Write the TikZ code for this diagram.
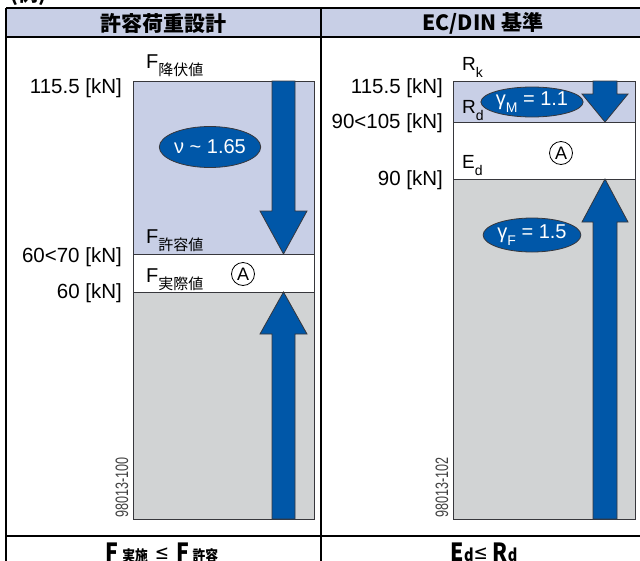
\documentclass[tikz,border=0pt]{standalone}
\usepackage{fontspec}
\setmainfont{Liberation Sans}
\newfontfamily\jp{Noto Sans CJK JP}
\newfontfamily\dv{DejaVu Sans}
\usetikzlibrary{shapes.geometric}
\definecolor{lblue}{RGB}{200,207,230}
\definecolor{lgray}{RGB}{209,211,212}
\definecolor{dblue}{RGB}{0,87,168}
\definecolor{edgec}{RGB}{55,55,60}
\newcommand\jsub[1]{\raisebox{-7pt}{\jp\fontsize{15}{15}\selectfont #1}}
\newcommand\lsub[1]{\raisebox{-7pt}{\fontsize{14}{14}\selectfont #1}}
\newcommand\leqsign{\raisebox{2pt}{\dv\mdseries\fontsize{20}{20}\selectfont ≤}}
\tikzset{
  grid/.style={line width=1.3pt, black},
  zone/.style={draw=edgec, line width=0.9pt},
  bigarrow/.style={fill=dblue, draw=edgec, line width=0.8pt, line join=miter},
  bubble/.style={ellipse, fill=dblue, draw=edgec, line width=0.8pt, text=white, inner sep=0pt,
                 font=\fontsize{20}{20}\selectfont},
  num/.style={anchor=base east, inner sep=0pt, font=\fontsize{20.5}{20.5}\selectfont},
  lab/.style={anchor=base west, inner sep=0pt, font=\fontsize{20}{20}\selectfont},
  marker/.style={circle, draw=black, line width=0.8pt, minimum size=23pt, inner sep=0pt,
                 font=\fontsize{18}{18}\selectfont},
  code/.style={rotate=90, anchor=west, inner sep=0pt, text=black!75,
               font=\fontsize{18}{18}\selectfont},
  head/.style={inner sep=0pt, font=\jp\bfseries\fontsize{21}{21}\selectfont},
  foot/.style={anchor=base, inner sep=0pt, font=\jp\bfseries\fontsize{25}{25}\selectfont},
}
\begin{document}
\begin{tikzpicture}[x=1pt,y=-1pt]
\useasboundingbox (0,0) rectangle (640,560);
% table
\fill[lblue] (6,8) rectangle (642,37);
\draw[grid] (6,8) -- (642,8);
\draw[grid] (6,37) -- (642,37);
\draw[grid] (6,536) -- (642,536);
\draw[grid] (6,8) -- (6,562);
\draw[grid] (321,8) -- (321,562);
\node[anchor=base west, inner sep=0pt, font=\jp\bfseries\fontsize{20}{20}\selectfont] (ex) at (10,1.5) {(例)};
\node[head] (h1) at (163,23) {許容荷重設計};
\node[head] (h2) at (483,23) {EC/DIN 基準};
% left diagram
\fill[lblue] (133,81) rectangle (314,254);
\fill[white] (133,254) rectangle (314,292);
\fill[lgray] (133,292) rectangle (314,519);
\draw[zone] (133,254) -- (314,254);
\draw[zone] (133,292) -- (314,292);
\draw[zone] (133,81) rectangle (314,519);
\filldraw[bigarrow] (272,81) -- (295,81) -- (295,211) -- (307,211) -- (283.5,254) -- (260,211) -- (272,211) -- cycle;
\filldraw[bigarrow] (283.5,292) -- (307,334) -- (295,334) -- (295,519) -- (272,519) -- (272,334) -- (260,334) -- cycle;
\node[bubble, minimum width=89pt, minimum height=41pt] (nu) at (210,147) {ν \char`\~{} 1.65};
\node[marker] (A1) at (243,274) {A};
\node[num] (n1) at (122,93) {115.5 [kN]};
\node[num] (n2) at (122,262) {60<70 [kN]};
\node[num] (n3) at (122,298) {60 [kN]};
\node[lab] (f1) at (146,68) {F\jsub{降伏値}};
\node[lab] (f2) at (146,243) {F\jsub{許容値}};
\node[lab] (f3) at (146,282) {F\jsub{実際値}};
\node[code] (c1) at (122,518) {\scalebox{0.7}[1]{98013-100}};
% right diagram
\fill[lblue] (453,81) rectangle (635,122);
\fill[white] (453,122) rectangle (635,179);
\fill[lgray] (453,179) rectangle (635,519);
\draw[zone] (453,122) -- (635,122);
\draw[zone] (453,179) -- (635,179);
\draw[zone] (453,81) rectangle (635,519);
\filldraw[bigarrow] (593,81) -- (617,81) -- (617,94) -- (628,94) -- (605,122) -- (582,94) -- (593,94) -- cycle;
\filldraw[bigarrow] (605,179) -- (628,222) -- (617,222) -- (617,519) -- (593,519) -- (593,222) -- (582,222) -- cycle;
\node[bubble, minimum width=90pt, minimum height=30pt] (gm) at (532,102) {γ\lsub{M} = 1.1};
\node[bubble, minimum width=90pt, minimum height=34pt] (gf) at (532,235) {γ\lsub{F} = 1.5};
\node[marker] (A2) at (561,153) {A};
\node[num] (m1) at (443,93) {115.5 [kN]};
\node[num] (m2) at (443,128) {90<105 [kN]};
\node[num] (m3) at (443,185) {90 [kN]};
\node[lab, font=\fontsize{19}{19}\selectfont] (r1) at (462,70) {R\lsub{k}};
\node[lab, font=\fontsize{19}{19}\selectfont] (r2) at (462,113) {R\lsub{d}};
\node[lab, font=\fontsize{19}{19}\selectfont] (e1) at (462,168) {E\lsub{d}};
\node[code] (c2) at (442,518) {\scalebox{0.7}[1]{98013-102}};
% bottom row
\node[foot] (b1) at (162,561)
  {\scalebox{0.85}[1]{F\,{\fontsize{15}{15}\selectfont 実施}\,\,\leqsign\,\,F\,{\fontsize{15}{15}\selectfont 許容}}};
\node[foot] (b2) at (484,561)
  {\scalebox{0.85}[1]{E{\fontsize{17}{17}\selectfont d}\leqsign\ R{\fontsize{17}{17}\selectfont d}}};
\end{tikzpicture}
\end{document}
